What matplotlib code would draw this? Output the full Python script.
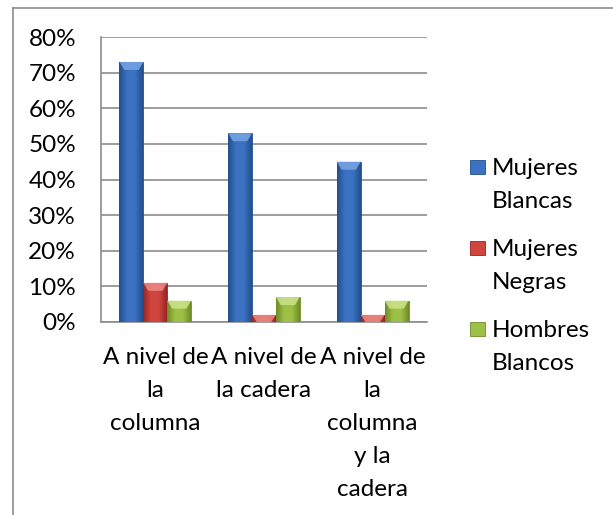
import numpy as np
import matplotlib.pyplot as plt
from matplotlib.patches import Rectangle, Polygon
from matplotlib.lines import Line2D
from matplotlib.colors import LinearSegmentedColormap

# datos
categorias = ["A nivel de\nla\ncolumna", "A nivel de\nla cadera", "A nivel de\nla\ncolumna\ny la\ncadera"]
series = ["Mujeres\nBlancas", "Mujeres\nNegras", "Hombres\nBlancos"]
mujeres_blancas = [0.73, 0.53, 0.45]
mujeres_negras = [0.11, 0.02, 0.02]
hombres_blancos = [0.06, 0.07, 0.06]
valores = [mujeres_blancas, mujeres_negras, hombres_blancos]
yticks = [0, 0.1, 0.2, 0.3, 0.4, 0.5, 0.6, 0.7, 0.8]

# colores (oscuro, claro, tapa)
colores = [("#234f8c", "#3b72c2", "#79a5e4"),
           ("#962523", "#d0463f", "#ec8a86"),
           ("#6f8c25", "#9dc046", "#cde38c")]

plt.rcParams['font.family'] = ['Lato', 'DejaVu Sans']
gris = "#8c8c8c"
fs = 17.5
ls = 1.7

fig = plt.figure(figsize=(6.13, 5.15), dpi=100)
ax = fig.add_axes([101 / 613, 1 - 322 / 515, 326 / 613, 285 / 515])

x = np.arange(len(categorias))
ancho = 0.22
px = 0.8 / 285  # unidades de datos por pixel en y

for i, (vals, col) in enumerate(zip(valores, colores)):
    cmap = LinearSegmentedColormap.from_list("g%d" % i, [col[0], col[1], col[1], col[0]])
    barras = ax.bar(x + (i - 1) * ancho, vals, ancho, color=col[1], edgecolor=col[0],
                    linewidth=0.6, zorder=3)
    for b in barras:
        x0, w, h = b.get_x(), b.get_width(), b.get_height()
        grad = np.linspace(0, 1, 64).reshape(1, -1)
        im = ax.imshow(grad, cmap=cmap, aspect="auto", extent=[x0, x0 + w, 0, h],
                       zorder=3.5, interpolation="bicubic")
        im.set_clip_path(b)
        dh = min(8 * px, h)
        tapa = Polygon([(x0, h), (x0 + w, h), (x0 + w * 0.8, h - dh), (x0 + w * 0.2, h - dh)],
                       closed=True, facecolor=col[2], edgecolor="none", alpha=0.85, zorder=4)
        ax.add_patch(tapa)

ax.set_xlim(-0.5, len(categorias) - 0.5)
ax.set_ylim(0, 0.8)
ax.set_yticks(yticks)
ax.set_yticklabels(["%d%%" % round(v * 100) for v in yticks], fontsize=fs)
ax.set_xticks(x)
ax.set_xticklabels(categorias, fontsize=fs, linespacing=ls, va="top")
ax.tick_params(axis="y", length=0, pad=18)
ax.tick_params(axis="x", length=0, pad=18)
ax.grid(axis="y", color=gris, linewidth=1.2, zorder=0)
ax.set_axisbelow(True)
for s in ["top", "right"]:
    ax.spines[s].set_visible(False)
for s in ["left", "bottom"]:
    ax.spines[s].set_color(gris)
    ax.spines[s].set_linewidth(1.2)

# leyenda hecha a mano
for i, (nombre, col) in enumerate(zip(series, colores)):
    yc = 1 - (167 + i * 81) / 515
    fig.add_artist(Rectangle((470 / 613, yc - 7 / 515), 15 / 613, 14 / 515,
                             facecolor=col[1], edgecolor=col[0], linewidth=0.6,
                             transform=fig.transFigure))
    fig.text(492 / 613, yc + 9 / 515, nombre, fontsize=fs, va="top", ha="left",
             linespacing=ls)

# marco exterior
fig.add_artist(Line2D([13 / 613, 13 / 613], [0, 1 - 7.5 / 515], color=gris, linewidth=1.2,
                      transform=fig.transFigure))
fig.add_artist(Line2D([13 / 613, 1], [1 - 7.5 / 515, 1 - 7.5 / 515], color=gris, linewidth=1.2,
                      transform=fig.transFigure))

fig.savefig("out.png", dpi=100)
